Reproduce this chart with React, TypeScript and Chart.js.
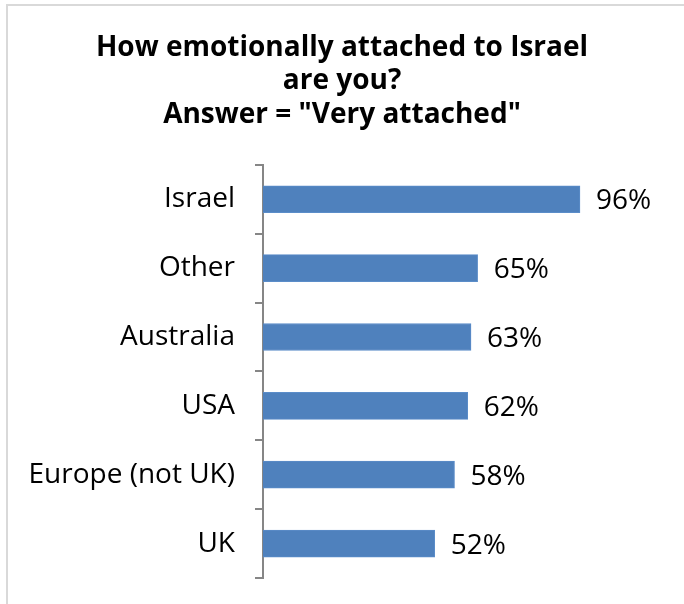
import React, { useEffect, useRef } from "react";
import { Chart, registerables } from "chart.js";

Chart.register(...registerables);

const titleLines = ["How emotionally attached to Israel", "are you?", 'Answer = "Very attached"'];
const categories = ["Israel", "Other", "Australia", "USA", "Europe (not UK)", "UK"];
const values = [96, 65, 63, 62, 58, 52];
const xMin = 0;
const xMax = 127.5;

const FONT = "'Open Sans', 'DejaVu Sans', sans-serif";

const dataLabels = {
  id: "dataLabels",
  afterDatasetsDraw(chart: any) {
    const ctx = chart.ctx;
    const meta = chart.getDatasetMeta(0);
    ctx.save();
    ctx.font = `28px ${FONT}`;
    ctx.fillStyle = "#000000";
    ctx.textAlign = "left";
    ctx.textBaseline = "middle";
    meta.data.forEach((bar: any, i: number) => {
      ctx.fillText(values[i] + "%", bar.x + 16, bar.y + 2);
    });
    ctx.restore();
  },
};

export default function App() {
  const ref = useRef<HTMLCanvasElement>(null);
  useEffect(() => {
    document.body.style.margin = "0";
    const chart = new Chart(ref.current!, {
      type: "bar",
      data: {
        labels: categories,
        datasets: [
          {
            data: values,
            backgroundColor: "#4F81BD",
            borderColor: "#5B8DC9",
            borderWidth: 1,
            barThickness: 27,
          },
        ],
      },
      options: {
        indexAxis: "y",
        animation: false,
        responsive: false,
        layout: { padding: { left: 0, right: 0, top: 0, bottom: 26 } },
        plugins: {
          legend: { display: false },
          tooltip: { enabled: false },
          title: {
            display: true,
            text: titleLines,
            color: "#000000",
            font: { family: FONT, size: 28, weight: "bold", lineHeight: 1.2 },
            padding: { top: 31, bottom: 33 },
          },
        },
        scales: {
          x: { display: false, min: xMin, max: xMax },
          y: {
            offset: true,
            afterFit: (scale: any) => {
              scale.width = 263;
              scale.paddingTop = 0;
              scale.paddingBottom = 0;
            },
            border: { display: true, color: "#868686", width: 2 },
            grid: {
              display: true,
              offset: true,
              drawOnChartArea: false,
              drawTicks: true,
              tickLength: 8,
              color: "#868686",
              lineWidth: 2,
            },
            ticks: {
              color: "#000000",
              padding: 20,
              font: { family: FONT, size: 28 },
            },
          },
        },
      },
      plugins: [dataLabels],
    });
    return () => chart.destroy();
  }, []);
  return (
    <div style={{ position: "relative", width: 684, height: 604, background: "#fff" }}>
      <canvas ref={ref} width={684} height={604} style={{ position: "absolute", left: 0, top: 0 }} />
      <div
        style={{
          position: "absolute",
          left: 6,
          top: 4,
          right: 0,
          bottom: 0,
          borderLeft: "2px solid #d9d9d9",
          borderTop: "2px solid #d9d9d9",
          pointerEvents: "none",
        }}
      />
    </div>
  );
}
